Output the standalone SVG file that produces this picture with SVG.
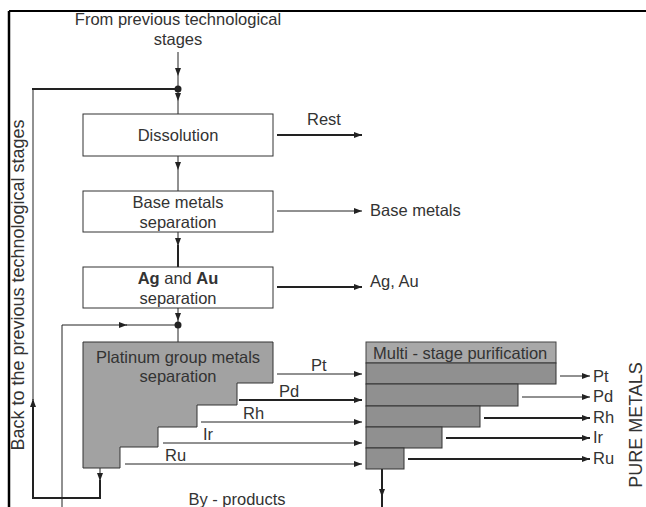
<svg xmlns="http://www.w3.org/2000/svg" width="646" height="507" viewBox="0 0 646 507">
<defs>
<marker id="arr" markerUnits="userSpaceOnUse" markerWidth="9" markerHeight="7" refX="8" refY="3.5" orient="auto">
<path d="M0,0.5 L8,3.5 L0,6.5 z" fill="#222"/>
</marker>
</defs>
<style>
text{font-family:"Liberation Sans",Arial,sans-serif;font-size:16.5px;fill:#333}
.c{text-anchor:middle}
.b{font-weight:bold}
.box{fill:#fff;stroke:#333;stroke-width:1}
.gray{fill:#a2a2a2;stroke:#333;stroke-width:1}
.hdr{fill:#a8a8a8;stroke:#444;stroke-width:1}
.row{fill:#909090;stroke:#333;stroke-width:1}
.l{fill:none;stroke:#222;stroke-width:1}
.t{fill:none;stroke:#222;stroke-width:2}
.a{marker-end:url(#arr)}
</style>
<rect width="646" height="507" fill="#fff"/>
<g id="frame">
<path d="M9,11 H646" stroke="#000" stroke-width="2" fill="none"/>
<path d="M9,11 V507" stroke="#000" stroke-width="2.5" fill="none"/>
</g>
<g id="labels">
<text class="c" x="178" y="25">From previous technological</text>
<text class="c" x="178" y="45">stages</text>
<text class="c" transform="translate(24,285) rotate(-90)" style="font-size:18px">Back to the previous technological stages</text>
<text class="c" transform="translate(642,425) rotate(-90)" style="font-size:18px">PURE METALS</text>
<text x="307" y="125">Rest</text>
<text x="370" y="216">Base metals</text>
<text x="370" y="287">Ag, Au</text>
<text class="c" x="237" y="505">By - products</text>
<text x="311" y="371">Pt</text>
<text x="279" y="397">Pd</text>
<text x="243" y="419">Rh</text>
<text x="203" y="440">Ir</text>
<text x="165" y="461">Ru</text>
<text x="593" y="382">Pt</text>
<text x="593" y="402">Pd</text>
<text x="593" y="423">Rh</text>
<text x="593" y="443">Ir</text>
<text x="593" y="464">Ru</text>
</g>
<g id="connectors">
<path class="l a" d="M178,52 V76"/>
<path class="l" d="M178,76 V89"/>
<path class="l a" d="M178,89 V101"/>
<path class="l" d="M178,101 V114"/>
<path class="l a" d="M178,156 V170"/>
<path class="l" d="M178,170 V191"/>
<path class="l a" d="M178,232 V246"/>
<path class="t" d="M178,245 V267"/>
<path class="l a" d="M178,308 V321"/>
<path class="l" d="M178,321 V342"/>
<path class="l a" d="M62,507 V325 H127"/>
<path class="l" d="M126,325 H178"/>
<path class="l a" d="M100,468 V481"/>
<path class="t" d="M100,480 V498 H33 V401"/>
<path class="l a" d="M33,410 V399"/>
<path class="l" d="M33,400 V89"/>
<path class="t" d="M32,89 H178"/>
<circle cx="178" cy="89" r="3.5" fill="#222"/>
<circle cx="178" cy="325" r="3.5" fill="#222"/>
<path class="t a" d="M277,135 H362"/>
<path class="l a" d="M277,211 H362"/>
<path class="t a" d="M277,287 H362"/>
<path class="l a" d="M277,374 H362"/>
<path class="t a" d="M239,400 H362"/>
<path class="l a" d="M201,422 H362"/>
<path class="l a" d="M163,443 H362"/>
<path class="l a" d="M125,464 H362"/>
<path class="l a" d="M560,376 H590"/>
<path class="l a" d="M522,397 H590"/>
<path class="t a" d="M484,418 H590"/>
<path class="t a" d="M446,438 H590"/>
<path class="t a" d="M408,459 H590"/>
<path class="t a" d="M382,469 V497"/>
<path class="t" d="M382,496 V507"/>
</g>
<g id="dissolution">
<rect class="box" x="83" y="114" width="190" height="42"/>
<text class="c" x="178" y="141">Dissolution</text>
</g>
<g id="base-metals">
<rect class="box" x="83" y="191" width="190" height="41"/>
<text class="c" x="178" y="208">Base metals</text>
<text class="c" x="178" y="228">separation</text>
</g>
<g id="ag-au">
<rect class="box" x="83" y="267" width="190" height="41"/>
<text class="c" x="178" y="284"><tspan class="b">Ag</tspan> and <tspan class="b">Au</tspan></text>
<text class="c" x="178" y="304">separation</text>
</g>
<g id="pgm">
<polygon class="gray" points="83,342 273,342 273,383 237,383 237,405 197,405 197,427 158,427 158,447 120,447 120,468 83,468"/>
<text class="c" x="178" y="363">Platinum group metals</text>
<text class="c" x="178" y="382">separation</text>
</g>
<g id="purification">
<rect class="hdr" x="366" y="342" width="190" height="21"/>
<text x="373" y="359">Multi - stage purification</text>
<rect class="row" x="366" y="363" width="190" height="21"/>
<rect class="row" x="366" y="384" width="152" height="22"/>
<rect class="row" x="366" y="406" width="114" height="21"/>
<rect class="row" x="366" y="427" width="76" height="21"/>
<rect class="row" x="366" y="448" width="38" height="21"/>
</g>
</svg>
